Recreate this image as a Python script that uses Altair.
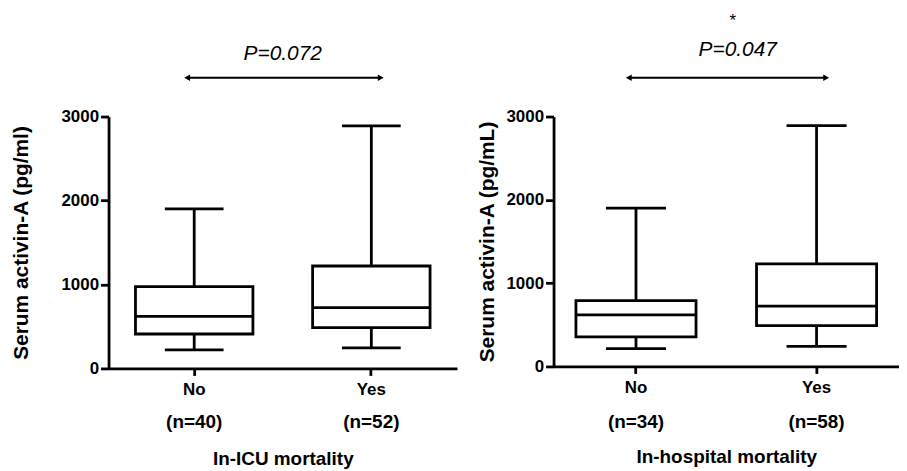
import altair as alt
import pandas as pd

# ---- data ----
groups = ["No", "Yes"]

icu_n = [40, 52]
icu_min = [220, 245]
icu_q1 = [410, 485]
icu_med = [620, 725]
icu_q3 = [975, 1220]
icu_max = [1900, 2890]

hosp_n = [34, 58]
hosp_min = [215, 240]
hosp_q1 = [355, 490]
hosp_med = [620, 725]
hosp_q3 = [790, 1230]
hosp_max = [1900, 2890]

y_ticks = [0, 1000, 2000, 3000]
y_domain = [0, 3000]
p_texts = ["P=0.072", "P=0.047"]
sig_marks = ["", "*"]
x_titles = ["In-ICU mortality", "In-hospital mortality"]
y_titles = ["Serum activin-A (pg/ml)", "Serum activin-A (pg/mL)"]

FONT = "Liberation Sans"
SW = 2.8


def panel(mins, q1, med, q3, maxs, ns, x_title, y_title, p_text, star,
          width, height, y_title_pad, pad_inner, pad_outer,
          arrow_dy, p_dy, star_dy, text_dx, n_dy):
    df = pd.DataFrame({"group": groups, "lo": mins, "q1": q1, "med": med,
                       "q3": q3, "hi": maxs,
                       "nlab": [f"(n={n})" for n in ns]})
    step = width / (len(groups) - pad_inner + 2 * pad_outer)
    band = step * (1 - pad_inner)

    xs = alt.Scale(domain=groups, paddingInner=pad_inner, paddingOuter=pad_outer)
    ys = alt.Scale(domain=y_domain, nice=False, zero=True)
    x = alt.X("group:N", scale=xs, sort=groups,
              axis=alt.Axis(title=x_title, labelAngle=0, labelPadding=6,
                            titlePadding=53, tickSize=7, titleFontSize=19))
    yaxis = alt.Axis(title=y_title, values=y_ticks, format="d", tickSize=8,
                     labelPadding=2, titlePadding=y_title_pad, titleFontSize=21)

    base = alt.Chart(df)
    whisk = base.mark_rule(color="black", strokeWidth=SW).encode(
        x=x, y=alt.Y("lo:Q", scale=ys, axis=yaxis), y2="hi:Q")
    box = base.mark_bar(fill="white", stroke="black", strokeWidth=SW, opacity=1).encode(
        x=x, y=alt.Y("q1:Q", scale=ys, axis=yaxis), y2="q3:Q")
    median = base.mark_tick(color="black", thickness=SW, size=band, opacity=1).encode(
        x=x, y=alt.Y("med:Q", scale=ys, axis=yaxis))
    cap_lo = base.mark_tick(color="black", thickness=SW, size=band / 2, opacity=1).encode(
        x=x, y=alt.Y("lo:Q", scale=ys, axis=yaxis))
    cap_hi = base.mark_tick(color="black", thickness=SW, size=band / 2, opacity=1).encode(
        x=x, y=alt.Y("hi:Q", scale=ys, axis=yaxis))
    nlab = base.mark_text(font=FONT, fontSize=19, fontWeight="bold", color="black",
                          baseline="middle").encode(
        x=x, y=alt.value(height + n_dy), text="nlab:N")

    ann = alt.Chart(pd.DataFrame({"t": [p_text], "s": [star]}))
    arrow = ann.mark_rule(color="black", strokeWidth=2).encode(
        x=alt.XDatum(groups[0], type="nominal", bandPosition=0.44),
        x2=alt.X2Datum(groups[1], bandPosition=0.58),
        y=alt.value(arrow_dy))
    head_l = ann.mark_point(shape="triangle-left", filled=True, color="black",
                            size=45, opacity=1).encode(
        x=alt.XDatum(groups[0], type="nominal", bandPosition=0.44),
        y=alt.value(arrow_dy))
    head_r = ann.mark_point(shape="triangle-right", filled=True, color="black",
                            size=45, opacity=1).encode(
        x=alt.XDatum(groups[1], type="nominal", bandPosition=0.58),
        y=alt.value(arrow_dy))
    ptxt = ann.mark_text(font=FONT, fontSize=21, fontStyle="italic", color="black",
                         baseline="middle").encode(
        text="t:N", x=alt.value(text_dx), y=alt.value(p_dy))
    layers = [whisk, box, median, cap_lo, cap_hi, nlab, arrow, head_l, head_r, ptxt]
    if star:
        stxt = ann.mark_text(font=FONT, fontSize=17, color="black",
                             baseline="middle").encode(
            text="s:N", x=alt.value(text_dx - 5), y=alt.value(star_dy))
        layers.append(stxt)
    return alt.layer(*layers).properties(width=width, height=height)


left = panel(icu_min, icu_q1, icu_med, icu_q3, icu_max, icu_n,
             x_titles[0], y_titles[0], p_texts[0], sig_marks[0],
             width=350, height=253, y_title_pad=30, pad_inner=0.337, pad_outer=0.152,
             arrow_dy=-39, p_dy=-63, star_dy=-96, text_dx=175, n_dy=54)
right = panel(hosp_min, hosp_q1, hosp_med, hosp_q3, hosp_max, hosp_n,
              x_titles[1], y_titles[1], p_texts[1], sig_marks[1],
              width=347, height=251, y_title_pad=8, pad_inner=0.335, pad_outer=0.124,
              arrow_dy=-39, p_dy=-67, star_dy=-96, text_dx=185, n_dy=56)

chart = alt.hconcat(left, right, spacing=20).properties(
    padding={"left": 2, "top": 3, "right": 0, "bottom": 0}
).configure_view(stroke=None).configure_axis(
    domainColor="black", domainWidth=SW, tickColor="black", tickWidth=SW,
    labelColor="black", labelFont=FONT, labelFontWeight="bold", labelFontSize=17,
    titleColor="black", titleFont=FONT, titleFontWeight="bold",
    grid=False
)

chart.save("out.html", embed_options={"renderer": "svg", "actions": False})
